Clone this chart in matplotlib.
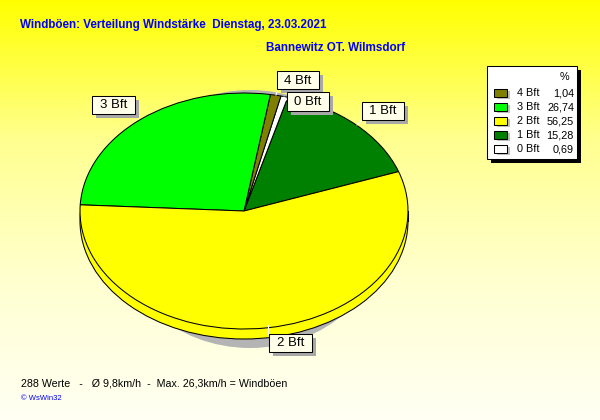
import numpy as np
import matplotlib
matplotlib.use("Agg")
import matplotlib.pyplot as plt
from matplotlib.patches import Ellipse, Rectangle
from matplotlib.colors import LinearSegmentedColormap

# ---- data ----
categories = ['4 Bft', '3 Bft', '2 Bft', '1 Bft', '0 Bft']
percent = [1.04, 26.74, 56.25, 15.28, 0.69]
colors = ['#808000', '#00ff00', '#ffff00', '#008000', '#ffffff']
pie_order = [3, 4, 0, 1, 2]  # counter-clockwise drawing order
title = 'Windböen: Verteilung Windstärke  Dienstag, 23.03.2021'
subtitle = 'Bannewitz OT. Wilmsdorf'
footer = '288 Werte   -   Ø 9,8km/h  -  Max. 26,3km/h = Windböen'
credit = '© WsWin32'

FONT = ['Liberation Sans', 'DejaVu Sans']
plt.rcParams['font.family'] = FONT

W, H = 600, 420
fig = plt.figure(figsize=(6, 4.2), dpi=100)

# background gradient
bg = fig.add_axes([0, 0, 1, 1])
bg.set_xlim(0, W)
bg.set_ylim(H, 0)
bg.axis('off')
cmap = LinearSegmentedColormap.from_list('bgy', ['#ffff00', '#ffff90', '#ffffd0', '#fffff4'])
grad = np.linspace(0, 1, 256).reshape(-1, 1)
bg.imshow(grad, cmap=cmap, extent=(0, W, H, 0), aspect='auto', zorder=0)

# pie geometry (pixels)
cx, cy, a, b, th = 244, 211, 164, 118, 10
lw = 0.75

# shadow
bg.add_patch(Ellipse((250, 219), 278, 258, facecolor='#b4b4b4', edgecolor='none', zorder=1))
# bottom layer (side of the 3D pie)
bg.add_patch(Ellipse((cx, cy + th), 2 * a, 2 * b, facecolor='#ffff00', edgecolor='black', lw=lw, zorder=2))
bg.add_patch(Rectangle((cx - a, cy), 2 * a, th, facecolor='#ffff00', edgecolor='none', zorder=3))
bg.plot([cx - a, cx - a], [cy, cy + th], color='black', lw=lw, zorder=3)
bg.plot([cx + a, cx + a], [cy, cy + th], color='black', lw=lw, zorder=3)

# top surface pie
pax = fig.add_axes([(cx - a) / W, (H - (cy + b)) / H, 2 * a / W, 2 * b / H])
pax.set_facecolor('none')
vals = [percent[i] for i in pie_order]
cols = [colors[i] for i in pie_order]
pax.pie(vals, colors=cols, startangle=19.5, counterclock=True,
        wedgeprops=dict(edgecolor='black', linewidth=lw))
pax.set_aspect('auto')
pax.set_xlim(-1, 1)
pax.set_ylim(-1, 1)
pax.axis('off')

# overlay for labels, legend, texts
ov = fig.add_axes([0, 0, 1, 1])
ov.set_facecolor('none')
ov.set_xlim(0, W)
ov.set_ylim(H, 0)
ov.axis('off')

# slice labels (box x, y, w, h) and leader lines
label_boxes = {
    '4 Bft': (277, 71, 42, 18),
    '0 Bft': (287, 92, 42, 19),
    '1 Bft': (362, 102, 42, 18),
    '3 Bft': (92, 96, 43, 18),
    '2 Bft': (269, 334, 43, 18),
}
leaders = {
    '4 Bft': [(276, 95), (278, 89)],
    '0 Bft': [(284, 97), (287, 100)],
    '1 Bft': [(357, 125), (362, 120)],
    '3 Bft': [(138, 119), (135, 114)],
    '2 Bft': [(268, 325), (268, 334)],
}
for name, pts in leaders.items():
    (x0, y0), (x1, y1) = pts
    ov.plot([x0, x1], [y0, y1], color='white', lw=0.8, zorder=4)
for name, (x, y, w, h) in label_boxes.items():
    ov.add_patch(Rectangle((x + 4, y + 4), w, h, facecolor='#a8a8a8', edgecolor='none', zorder=5))
    ov.add_patch(Rectangle((x, y), w, h, facecolor='#ffffea', edgecolor='black', lw=lw, zorder=6))
    ov.text(x + w / 2, y + h / 2 + 0.5, name, ha='center', va='center', fontsize=9.5, color='black', zorder=7)

# legend
lx, ly, lw_, lh = 487, 66, 90, 93
ov.add_patch(Rectangle((lx + 4, ly + 4), lw_, lh, facecolor='black', edgecolor='none', zorder=5))
ov.add_patch(Rectangle((lx, ly), lw_, lh, facecolor='white', edgecolor='black', lw=lw, zorder=6))
ov.text(564, 77, '%', ha='center', va='center', fontsize=7.8, zorder=7)
for i, (cat, p, c) in enumerate(zip(categories, percent, colors)):
    yy = 93 + i * 14
    ov.add_patch(Rectangle((497, yy - 2), 13, 8, facecolor='#c0c0c0', edgecolor='none', zorder=6))
    ov.add_patch(Rectangle((494, yy - 4), 13, 8, facecolor=c, edgecolor='black', lw=lw, zorder=7))
    ov.text(517, yy, cat, ha='left', va='center', fontsize=7.8, zorder=7)
    ov.text(574, yy, f'{p:.2f}'.replace('.', ','), ha='right', va='center', fontsize=7.8, zorder=7)

# titles and footer
ov.text(20, 25, title, ha='left', va='center', fontsize=8.4, fontweight='bold',
        color='#0000ff', zorder=7)
ov.text(266, 48, subtitle, ha='left', va='center', fontsize=8.4, fontweight='bold',
        color='#0000ff', zorder=7)
ov.text(21, 383, footer, ha='left', va='center', fontsize=7.7, color='black', zorder=7)
ov.text(21, 399, credit, ha='left', va='center', fontsize=5.5, color='#0000ff', zorder=7)

fig.savefig('out.png', dpi=100)
